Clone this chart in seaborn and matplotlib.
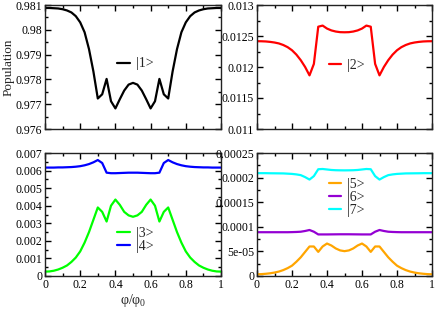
import numpy as np
import pandas as pd
import matplotlib
matplotlib.use("Agg")
import matplotlib.pyplot as plt
from matplotlib.ticker import MultipleLocator, FuncFormatter
import seaborn as sns

phi = [0.0, 0.025, 0.05, 0.075, 0.1, 0.125, 0.15, 0.175, 0.2, 0.225, 0.25, 0.275,
       0.3, 0.325, 0.35, 0.375, 0.4, 0.425, 0.45, 0.475, 0.5, 0.525, 0.55, 0.575,
       0.6, 0.625, 0.65, 0.675, 0.7, 0.725, 0.75, 0.775, 0.8, 0.825, 0.85, 0.875,
       0.9, 0.925, 0.95, 0.975, 1.0]

p1 = [0.98088, 0.98088, 0.98087, 0.98086, 0.98083, 0.98078, 0.98070, 0.98055, 0.98030, 0.97990,
      0.97922, 0.97832, 0.97723, 0.97740, 0.97802, 0.97712, 0.97683, 0.97720, 0.97755, 0.97779,
      0.97786,
      0.97779, 0.97755, 0.97720, 0.97683, 0.97712, 0.97802, 0.97740, 0.97723, 0.97832, 0.97922,
      0.97990, 0.98030, 0.98055, 0.98070, 0.98078, 0.98083, 0.98086, 0.98087, 0.98088, 0.98088]

p2 = [0.012416, 0.012415, 0.012412, 0.012405, 0.012395, 0.012380, 0.012355, 0.012320, 0.012270, 0.012200,
      0.012110, 0.012000, 0.011865, 0.012050, 0.012650, 0.012668, 0.012620, 0.012590, 0.012572, 0.012562,
      0.012560,
      0.012562, 0.012572, 0.012590, 0.012620, 0.012668, 0.012650, 0.012050, 0.011865, 0.012000, 0.012110,
      0.012200, 0.012270, 0.012320, 0.012355, 0.012380, 0.012395, 0.012405, 0.012412, 0.012415, 0.012416]

p3 = [0.00025, 0.00026, 0.00030, 0.00037, 0.00047, 0.00060, 0.00080, 0.00105, 0.00140, 0.00190,
      0.00250, 0.00320, 0.00390, 0.00365, 0.00310, 0.00400, 0.00435, 0.00405, 0.00365, 0.00345,
      0.00337,
      0.00345, 0.00365, 0.00405, 0.00435, 0.00400, 0.00310, 0.00365, 0.00390, 0.00320, 0.00250,
      0.00190, 0.00140, 0.00105, 0.00080, 0.00060, 0.00047, 0.00037, 0.00030, 0.00026, 0.00025]

p4 = [0.00617, 0.00617, 0.00617, 0.00618, 0.00618, 0.00619, 0.00620, 0.00622, 0.00625, 0.00630,
      0.00637, 0.00647, 0.00660, 0.00643, 0.00588, 0.00585, 0.00585, 0.00586, 0.00587, 0.00588,
      0.00588,
      0.00588, 0.00587, 0.00586, 0.00585, 0.00585, 0.00588, 0.00643, 0.00660, 0.00647, 0.00637,
      0.00630, 0.00625, 0.00622, 0.00620, 0.00619, 0.00618, 0.00618, 0.00617, 0.00617, 0.00617]

p5 = [3.5e-6, 3.8e-6, 4.5e-6, 5.5e-6, 7.0e-6, 9.0e-6, 1.2e-5, 1.6e-5, 2.1e-5, 2.9e-5,
      3.8e-5, 4.9e-5, 6.0e-5, 6.0e-5, 4.9e-5, 6.0e-5, 6.6e-5, 6.2e-5, 5.6e-5, 5.2e-5,
      5.05e-5,
      5.2e-5, 5.6e-5, 6.2e-5, 6.6e-5, 6.0e-5, 4.9e-5, 6.0e-5, 6.0e-5, 4.9e-5, 3.8e-5,
      2.9e-5, 2.1e-5, 1.6e-5, 1.2e-5, 9.0e-6, 7.0e-6, 5.5e-6, 4.5e-6, 3.8e-6, 3.5e-6]

p6 = [8.9e-5, 8.9e-5, 8.9e-5, 8.9e-5, 8.9e-5, 8.9e-5, 8.9e-5, 8.9e-5, 8.92e-5, 8.95e-5,
      9.0e-5, 9.15e-5, 9.35e-5, 9.0e-5, 8.45e-5, 8.45e-5, 8.45e-5, 8.46e-5, 8.47e-5, 8.48e-5,
      8.48e-5,
      8.48e-5, 8.47e-5, 8.46e-5, 8.45e-5, 8.45e-5, 8.45e-5, 9.0e-5, 9.35e-5, 9.15e-5, 9.0e-5,
      8.95e-5, 8.92e-5, 8.9e-5, 8.9e-5, 8.9e-5, 8.9e-5, 8.9e-5, 8.9e-5, 8.9e-5, 8.9e-5]

p7 = [2.09e-4, 2.09e-4, 2.09e-4, 2.088e-4, 2.087e-4, 2.086e-4, 2.085e-4, 2.08e-4, 2.075e-4, 2.065e-4,
      2.05e-4, 2.01e-4, 1.96e-4, 2.03e-4, 2.17e-4, 2.175e-4, 2.165e-4, 2.155e-4, 2.15e-4, 2.148e-4,
      2.147e-4,
      2.148e-4, 2.15e-4, 2.155e-4, 2.165e-4, 2.175e-4, 2.17e-4, 2.03e-4, 1.96e-4, 2.01e-4, 2.05e-4,
      2.065e-4, 2.075e-4, 2.08e-4, 2.085e-4, 2.086e-4, 2.087e-4, 2.088e-4, 2.09e-4, 2.09e-4, 2.09e-4]

labels = ["|1>", "|2>", "|3>", "|4>", "|5>", "|6>", "|7>"]
colors = ["#000000", "#ff0000", "#00ff00", "#0000ff", "#ffa500", "#9400d3", "#00ffff"]
ylims = [(0.976, 0.981), (0.011, 0.013), (0.0, 0.007), (0.0, 0.00025)]
ymajor = [0.001, 0.0005, 0.001, 0.00005]
yminor = [0.0005, 0.00025, 0.0005, 0.000025]

sns.set_style("ticks")
plt.rcParams["font.family"] = ["Liberation Serif", "DejaVu Serif"]
plt.rcParams["mathtext.fontset"] = "custom"
plt.rcParams["mathtext.rm"] = "Liberation Serif"
plt.rcParams["mathtext.default"] = "regular"

fig = plt.figure(figsize=(4.36, 3.10), dpi=100)
W, H = 436.0, 310.0
boxes = [(45, 5, 221, 129), (257, 5, 432, 129), (45, 153, 221, 276), (257, 153, 432, 276)]
axes = []
for (l, t, r, b) in boxes:
    axes.append(fig.add_axes([l / W, 1 - b / H, (r - l) / W, (b - t) / H]))

series = [p1, p2, p3, p4, p5, p6, p7]
panel_of = [0, 1, 2, 2, 3, 3, 3]
for i, (s, pi) in enumerate(zip(series, panel_of)):
    df = pd.DataFrame({"phi": phi, "pop": s})
    sns.lineplot(data=df, x="phi", y="pop", ax=axes[pi], color=colors[i], lw=1.6,
                 label=labels[i])

fmt = FuncFormatter(lambda v, p: "%g" % round(v, 8))
for k, ax in enumerate(axes):
    ax.set_xlim(0, 1)
    ax.set_ylim(*ylims[k])
    ax.xaxis.set_major_locator(MultipleLocator(0.2))
    ax.xaxis.set_minor_locator(MultipleLocator(0.1))
    ax.yaxis.set_major_locator(MultipleLocator(ymajor[k]))
    ax.yaxis.set_minor_locator(MultipleLocator(yminor[k]))
    ax.yaxis.set_major_formatter(fmt)
    ax.xaxis.set_major_formatter(fmt)
    ax.tick_params(which="both", direction="in", top=True, right=True, labelsize=8.5,
                   width=1.0, pad=2, colors="black")
    ax.tick_params(which="major", length=4)
    ax.tick_params(which="minor", length=2)
    for sp in ax.spines.values():
        sp.set_visible(True)
        sp.set_linewidth(1.0)
        sp.set_color("#222222")
    ax.set_xlabel("")
    ax.set_ylabel("")
    if k < 2:
        ax.tick_params(labelbottom=False)

axes[0].set_ylabel("Population", fontsize=9.5)
axes[0].yaxis.set_label_coords(-0.175, 0.5)
axes[2].set_xlabel("φ/φ$_0$", fontsize=10, labelpad=1)

leg_pos = [(0.41, 0.525), (0.41, 0.515), (0.41, 0.29), (0.41, 0.64)]
for k, ax in enumerate(axes):
    ax.legend(loc="center left", bbox_to_anchor=leg_pos[k], frameon=False, fontsize=10,
              handlelength=0.9, handletextpad=0.45, labelspacing=0.0, borderpad=0.0,
              borderaxespad=0.0)

fig.savefig("out.png", dpi=100)
